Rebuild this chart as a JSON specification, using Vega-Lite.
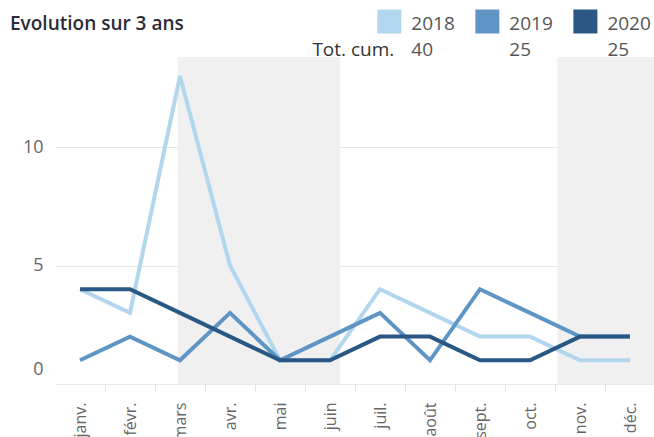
{
  "$schema": "https://vega.github.io/schema/vega-lite/v6.json",
  "padding": {"left": 10, "top": 0, "right": 0, "bottom": 0},
  "background": "white",
  "title": {
    "text": "Evolution sur 3 ans",
    "anchor": "start",
    "frame": "group",
    "dx": -45,
    "offset": -34,
    "font": "Open Sans",
    "fontSize": 19,
    "fontWeight": 600,
    "color": "#2b2b38"
  },
  "data": {
    "values": [
      {"month": 1, "year": 2018, "value": 4},
      {"month": 2, "year": 2018, "value": 3},
      {"month": 3, "year": 2018, "value": 13},
      {"month": 4, "year": 2018, "value": 5},
      {"month": 5, "year": 2018, "value": 1},
      {"month": 6, "year": 2018, "value": 1},
      {"month": 7, "year": 2018, "value": 4},
      {"month": 8, "year": 2018, "value": 3},
      {"month": 9, "year": 2018, "value": 2},
      {"month": 10, "year": 2018, "value": 2},
      {"month": 11, "year": 2018, "value": 1},
      {"month": 12, "year": 2018, "value": 1},
      {"month": 1, "year": 2019, "value": 1},
      {"month": 2, "year": 2019, "value": 2},
      {"month": 3, "year": 2019, "value": 1},
      {"month": 4, "year": 2019, "value": 3},
      {"month": 5, "year": 2019, "value": 1},
      {"month": 6, "year": 2019, "value": 2},
      {"month": 7, "year": 2019, "value": 3},
      {"month": 8, "year": 2019, "value": 1},
      {"month": 9, "year": 2019, "value": 4},
      {"month": 10, "year": 2019, "value": 3},
      {"month": 11, "year": 2019, "value": 2},
      {"month": 12, "year": 2019, "value": 2},
      {"month": 1, "year": 2020, "value": 4},
      {"month": 2, "year": 2020, "value": 4},
      {"month": 3, "year": 2020, "value": 3},
      {"month": 4, "year": 2020, "value": 2},
      {"month": 5, "year": 2020, "value": 1},
      {"month": 6, "year": 2020, "value": 1},
      {"month": 7, "year": 2020, "value": 2},
      {"month": 8, "year": 2020, "value": 2},
      {"month": 9, "year": 2020, "value": 1},
      {"month": 10, "year": 2020, "value": 1},
      {"month": 11, "year": 2020, "value": 2},
      {"month": 12, "year": 2020, "value": 2}
    ]
  },
  "bounds": "flush",
  "spacing": 14,
  "vconcat": [
    {
      "width": 600,
      "height": 43,
      "transform": [
        {"aggregate": [{"op": "sum", "field": "value", "as": "total"}], "groupby": ["year"]}
      ],
      "encoding": {
        "x": {
          "field": "year",
          "type": "quantitative",
          "scale": {"domain": [2014.59, 2020.71], "nice": false, "zero": false},
          "axis": null
        }
      },
      "layer": [
        {
          "mark": {"type": "point", "shape": "square", "filled": true, "size": 576, "opacity": 1},
          "encoding": {
            "color": {
              "field": "year",
              "type": "nominal",
              "scale": {"domain": [2018, 2019, 2020], "range": ["#b1d6ee", "#5f95c4", "#2a5783"]},
              "legend": null
            }
          }
        },
        {
          "mark": {"type": "text", "align": "left", "baseline": "middle", "dx": 22, "dy": 2, "font": "Open Sans", "fontSize": 19, "color": "#555555"},
          "encoding": {"text": {"field": "year", "type": "nominal"}}
        },
        {
          "mark": {"type": "text", "align": "left", "baseline": "middle", "dx": 22, "dy": 28, "font": "Open Sans", "fontSize": 19, "color": "#555555"},
          "encoding": {"text": {"field": "total", "type": "quantitative"}}
        },
        {
          "transform": [{"filter": "datum.year == 2018"}],
          "mark": {"type": "text", "align": "right", "baseline": "middle", "dx": 5, "dy": 28, "font": "Open Sans", "fontSize": 19, "color": "#333333", "text": "Tot. cum."}
        }
      ]
    },
    {
      "width": 600,
      "height": 327,
      "layer": [
        {
          "data": {"values": [{"debut": 2.95, "fin": 6.2}, {"debut": 10.55, "fin": 12.5}]},
          "mark": {"type": "rect", "color": "#f0f0f0"},
          "encoding": {
            "x": {"field": "debut", "type": "quantitative", "scale": {"domain": [0.5, 12.5], "nice": false, "zero": false}},
            "x2": {"field": "fin"}
          }
        },
        {
          "mark": {"type": "line", "strokeWidth": 4},
          "encoding": {
            "x": {
              "field": "month",
              "type": "quantitative",
              "scale": {"domain": [0.5, 12.5], "nice": false, "zero": false},
              "axis": {
                "values": [1, 2, 3, 4, 5, 6, 7, 8, 9, 10, 11, 12],
                "labelExpr": "['janv.','févr.','mars','avr.','mai','juin','juil.','août','sept.','oct.','nov.','déc.'][datum.value - 1]",
                "title": null,
                "labelAngle": -90,
                "labelAlign": "right",
                "labelBaseline": "middle",
                "labelFont": "Open Sans",
                "labelFontSize": 16,
                "labelColor": "#666666",
                "labelPadding": 10,
                "tickOffset": 25,
                "labelOffset": -25,
                "ticks": true,
                "tickSize": 8,
                "tickColor": "#e4e4e4",
                "domain": false,
                "grid": false
              }
            },
            "y": {
              "field": "value",
              "type": "quantitative",
              "scale": {"domain": [0, 13.8], "nice": false},
              "axis": {
                "values": [0, 5, 10],
                "title": null,
                "labelFont": "Open Sans",
                "labelFontSize": 18,
                "labelColor": "#666666",
                "labelPadding": 12,
                "labelFlush": true,
                "labelFlushOffset": -6,
                "ticks": false,
                "domain": false,
                "grid": true,
                "gridColor": "#e6e6e6"
              }
            },
            "color": {
              "field": "year",
              "type": "nominal",
              "scale": {"domain": [2018, 2019, 2020], "range": ["#b1d6ee", "#5f95c4", "#2a5783"]},
              "legend": null
            }
          }
        }
      ]
    }
  ],
  "config": {
    "view": {"stroke": null}
  }
}
